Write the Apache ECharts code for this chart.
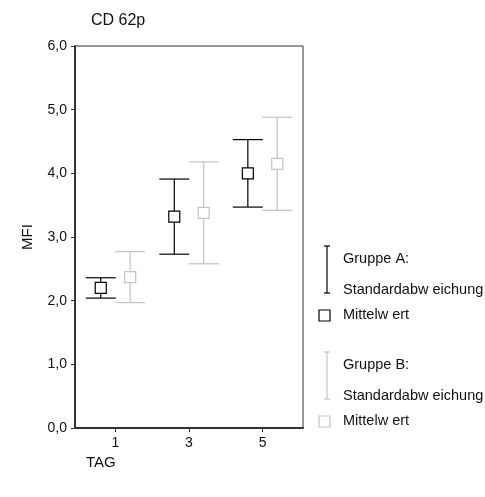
<!DOCTYPE html>
<html>
<head>
<meta charset="utf-8">
<script src="https://cdn.jsdelivr.net/npm/echarts@6/dist/echarts.min.js"></script>
<style>
  html, body { margin: 0; padding: 0; background: #fff; }
  #chart { width: 485px; height: 497px; }
</style>
</head>
<body>
<div id="chart"></div>
<script>
// Days of measurement (x axis)
const days = [1, 3, 5];
// Group A: mean MFI and standard deviation per day
const meanA = [2.20, 3.32, 4.00];
const sdA   = [0.16, 0.59, 0.53];
// Group B: mean MFI and standard deviation per day
const meanB = [2.37, 3.38, 4.15];
const sdB   = [0.40, 0.80, 0.73];
// Axis tick labels
const yTicks = [0, 1, 2, 3, 4, 5, 6];
const xTicks = [1, 3, 5];

const COLOR_A = '#000000';
const COLOR_B = '#c4c4c4';
const FONT = 'Liberation Sans, Arial, sans-serif';
const SHIFT = 0.4; // horizontal offset of each group from the day tick

function rows(means, sds, shift) {
  return days.map((d, i) => [d + shift, means[i], means[i] - sds[i], means[i] + sds[i]]);
}

function errorBar(color) {
  return function (params, api) {
    const x = api.value(0);
    const pM = api.coord([x, api.value(1)]);
    const pLo = api.coord([x, api.value(2)]);
    const pHi = api.coord([x, api.value(3)]);
    const half = 15, box = 11;
    const st = { stroke: color, lineWidth: 1.2, fill: null };
    return {
      type: 'group',
      children: [
        { type: 'line', shape: { x1: pM[0], y1: pHi[1], x2: pM[0], y2: pLo[1] }, style: st },
        { type: 'line', shape: { x1: pM[0] - half, y1: pHi[1], x2: pM[0] + half, y2: pHi[1] }, style: st },
        { type: 'line', shape: { x1: pM[0] - half, y1: pLo[1], x2: pM[0] + half, y2: pLo[1] }, style: st },
        { type: 'rect', shape: { x: pM[0] - box / 2, y: pM[1] - box / 2, width: box, height: box },
          style: { stroke: color, lineWidth: 1.2, fill: '#ffffff' } }
      ]
    };
  };
}

const chart = echarts.init(document.getElementById('chart'), null, { renderer: 'canvas' });

const textStyle = { fontFamily: FONT, fontSize: 14, color: '#111' };
const LEG_FONT = '14.5px ' + FONT;

// Legend drawn as graphic elements on the right
function legendBlock(top, color, label) {
  const x = 327;
  return [
    { type: 'line', shape: { x1: x, y1: top, x2: x, y2: top + 47 }, style: { stroke: color, lineWidth: 1.2 } },
    { type: 'line', shape: { x1: x - 3, y1: top, x2: x + 3, y2: top }, style: { stroke: color, lineWidth: 1.2 } },
    { type: 'line', shape: { x1: x - 3, y1: top + 47, x2: x + 3, y2: top + 47 }, style: { stroke: color, lineWidth: 1.2 } },
    { type: 'text', x: 343, y: top + 13, style: { text: label, font: LEG_FONT, fill: '#111', textVerticalAlign: 'middle' } },
    { type: 'text', x: 343, y: top + 44, style: { text: 'Standardabw eichung', font: LEG_FONT, fill: '#111', textVerticalAlign: 'middle' } },
    { type: 'rect', shape: { x: 319, y: top + 64, width: 11, height: 11 }, style: { stroke: color, lineWidth: 1.2, fill: '#fff' } },
    { type: 'text', x: 343, y: top + 69, style: { text: 'Mittelw ert', font: LEG_FONT, fill: '#111', textVerticalAlign: 'middle' } }
  ];
}

chart.setOption({
  animation: false,
  backgroundColor: '#ffffff',
  title: {
    text: 'CD 62p',
    left: 86, top: 8,
    textStyle: { fontFamily: FONT, fontSize: 16, fontWeight: 'normal', color: '#111' }
  },
  grid: {
    left: 75, top: 46, width: 228, height: 382,
    show: true, borderColor: '#333', borderWidth: 1, backgroundColor: 'transparent'
  },
  xAxis: {
    type: 'value', min: -0.1, max: 6.1,
    splitLine: { show: false },
    axisLine: { show: true, onZero: false, lineStyle: { color: '#333', width: 2 } },
    axisTick: { show: true, length: 4, customValues: xTicks, lineStyle: { color: '#333' } },
    axisLabel: { customValues: xTicks, margin: 8, ...textStyle }
  },
  yAxis: {
    type: 'value', min: 0, max: 6, interval: 1,
    name: 'MFI', nameLocation: 'middle', nameGap: 40, nameRotate: 90,
    nameTextStyle: { fontFamily: FONT, fontSize: 15, color: '#111' },
    splitLine: { show: false },
    axisLine: { show: true, onZero: false, lineStyle: { color: '#333', width: 2 } },
    axisTick: { show: true, length: 4, customValues: yTicks, lineStyle: { color: '#333' } },
    axisLabel: {
      customValues: yTicks, margin: 8, ...textStyle,
      formatter: v => v.toFixed(1).replace('.', ',')
    }
  },
  graphic: [
    { type: 'text', x: 86, y: 455, style: { text: 'TAG', font: '15px ' + FONT, fill: '#111' } },
    ...legendBlock(246, COLOR_A, 'Gruppe A:'),
    ...legendBlock(352, COLOR_B, 'Gruppe B:')
  ],
  series: [
    {
      name: 'Gruppe B', type: 'custom', renderItem: errorBar(COLOR_B),
      encode: { x: 0, y: [1, 2, 3] }, data: rows(meanB, sdB, SHIFT), z: 2
    },
    {
      name: 'Gruppe A', type: 'custom', renderItem: errorBar(COLOR_A),
      encode: { x: 0, y: [1, 2, 3] }, data: rows(meanA, sdA, -SHIFT), z: 3
    }
  ]
});
</script>
</body>
</html>
